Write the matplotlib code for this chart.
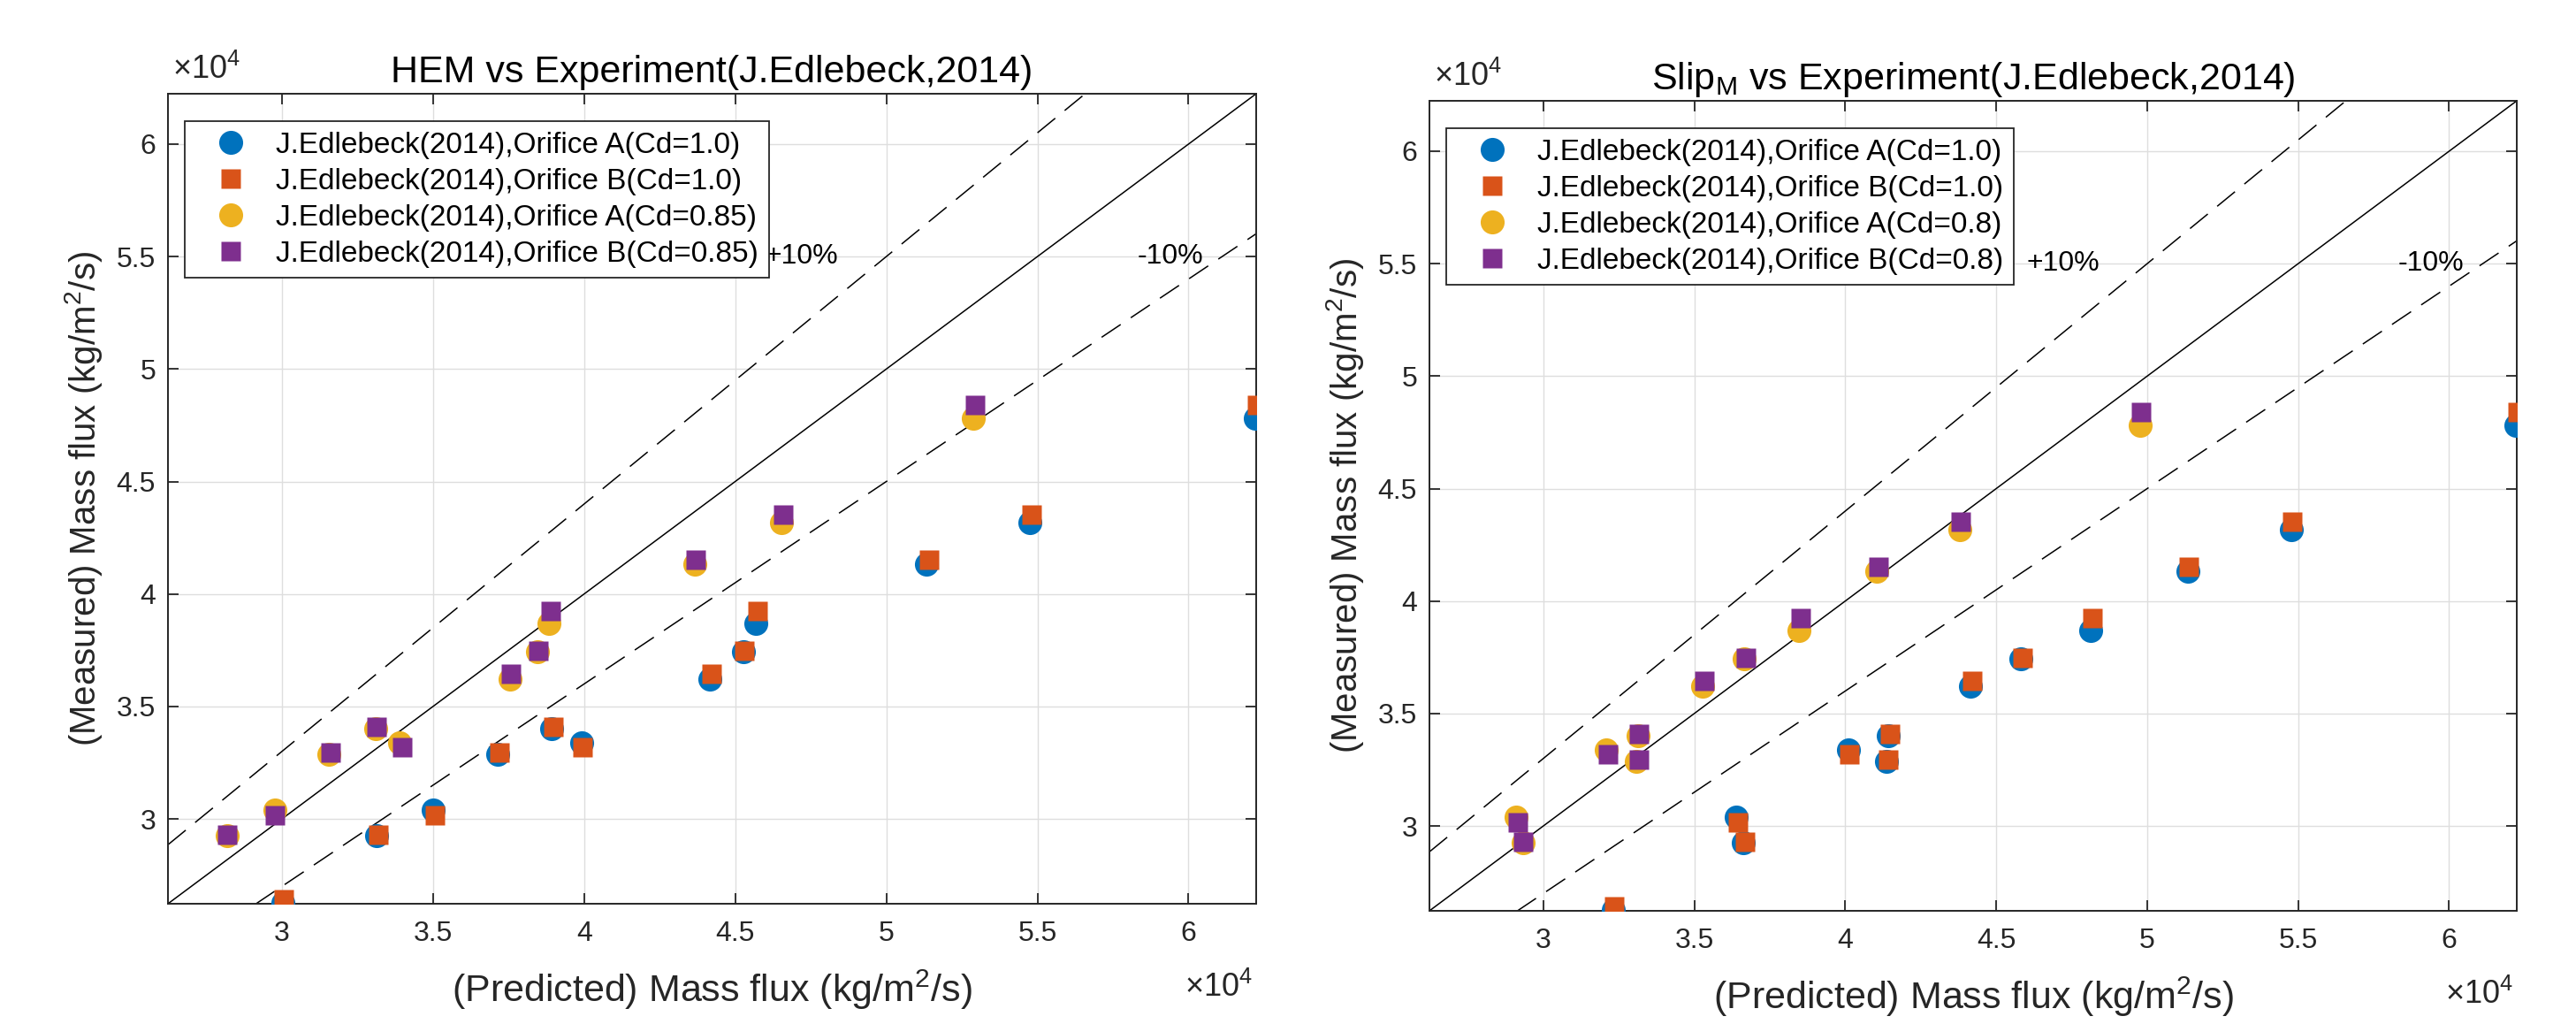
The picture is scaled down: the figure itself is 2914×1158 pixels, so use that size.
import numpy as np
import matplotlib
matplotlib.use('Agg')
import matplotlib.pyplot as plt
from matplotlib.ticker import FuncFormatter

plt.rcParams['font.family'] = ['Liberation Sans', 'DejaVu Sans']
plt.rcParams['mathtext.fontset'] = 'custom'
plt.rcParams['mathtext.rm'] = 'Liberation Sans'
plt.rcParams['mathtext.it'] = 'Liberation Sans:italic'
plt.rcParams['mathtext.bf'] = 'Liberation Sans:bold'

# measured mass flux, kg/m2/s (same for both panels)
meas_a = [26280, 29270, 30400, 32880, 33370, 34000, 36230, 37450, 38690, 41320, 43160, 47810]
meas_b = [26410, 29300, 30180, 32950, 33190, 34100, 36470, 37480, 39250, 41520, 43540, 48410]

# HEM predictions
hem_a = [30020, 33130, 35000, 37130, 39920, 38930, 44160, 45260, 45690, 51340, 54760, 62210]
hem_b = [30070, 33180, 35070, 37200, 39940, 38970, 44210, 45300, 45740, 51420, 54810, 62260]
hem_a85 = [28180, 29760, 31550, 33900, 33100, 37540, 38460, 38830, 43660, 46540, 52870]
hem_b85 = [28200, 29780, 31600, 33980, 33130, 37590, 38490, 38900, 43680, 46590, 52940]

# Slip_M predictions
slip_a = [32310, 36630, 36380, 41360, 40120, 41430, 44150, 45830, 48130, 51360, 54760, 62210]
slip_b = [32350, 36670, 36460, 41430, 40150, 41480, 44220, 45870, 48180, 51380, 54810, 62260]
slip_a8 = [29320, 29100, 33080, 32090, 33130, 35290, 36650, 38470, 41040, 43790, 49760]
slip_b8 = [29340, 29170, 33160, 32140, 33180, 35340, 36700, 38520, 41090, 43830, 49810]

lims = [26230, 62240]
ticks = [30000, 35000, 40000, 45000, 50000, 55000, 60000]

c_blue = '#0072BD'
c_orange = '#D95319'
c_yellow = '#EDB120'
c_purple = '#7E2F8E'
dark = '#262626'

W, H = 2914, 1158
fig = plt.figure(figsize=(W / 100, H / 100), dpi=100)
ax1 = fig.add_axes([190 / W, 1 - 1022 / H, 1231 / W, 916 / H])
ax2 = fig.add_axes([1617 / W, 1 - 1030 / H, 1230 / W, 916 / H])


def panel(ax, xa, xb, xa2, xb2, cd2, title):
    xs = np.array(lims, dtype=float)
    ax.plot(xs, xs, '-', color='k', lw=1.1, zorder=2)
    ax.plot(xs, 1.1 * xs, '--', color='k', lw=1.1, dashes=(17, 9), zorder=2)
    ax.plot(xs, 0.9 * xs, '--', color='k', lw=1.1, dashes=(17, 9), zorder=2)
    ax.plot(xa, meas_a, 'o', ms=19.5, color=c_blue, mec='none', zorder=3,
            label='J.Edlebeck(2014),Orifice A(Cd=1.0)')
    ax.plot(xb, meas_b, 's', ms=15.8, color=c_orange, mec='none', zorder=3,
            label='J.Edlebeck(2014),Orifice B(Cd=1.0)')
    ax.plot(xa2, meas_a[1:], 'o', ms=19.5, color=c_yellow, mec='none', zorder=3,
            label='J.Edlebeck(2014),Orifice A(Cd=%s)' % cd2)
    ax.plot(xb2, meas_b[1:], 's', ms=15.8, color=c_purple, mec='none', zorder=3,
            label='J.Edlebeck(2014),Orifice B(Cd=%s)' % cd2)

    ax.set_xlim(lims)
    ax.set_ylim(lims)
    ax.set_xticks(ticks)
    ax.set_yticks(ticks)
    fmt = FuncFormatter(lambda v, p: '%g' % (v / 1e4))
    ax.xaxis.set_major_formatter(fmt)
    ax.yaxis.set_major_formatter(fmt)
    ax.grid(True, color='#dedede', lw=1.0, zorder=0)
    ax.set_axisbelow(True)
    ax.tick_params(direction='in', length=8.5, width=1.3, top=True, right=True,
                   labelsize=23, colors=dark, labelcolor=dark)
    ax.tick_params(axis='x', pad=14)
    ax.tick_params(axis='y', pad=10)
    for s in ax.spines.values():
        s.set_color(dark)
        s.set_linewidth(1.4)

    ax.text(4.6e4, 5.5e4, '+10%', fontsize=23, ha='left', va='center', zorder=4)
    ax.text(5.83e4, 5.5e4, '-10%', fontsize=23, ha='left', va='center', zorder=4)

    ax.text(0.004, 1.01, r'$\times10^{4}$', transform=ax.transAxes,
            fontsize=26, color=dark, ha='left', va='bottom')
    ax.text(0.997, -0.123, r'$\times10^{4}$', transform=ax.transAxes,
            fontsize=26, color=dark, ha='right', va='bottom')

    ax.set_title(title, fontsize=31, pad=9)
    ax.set_xlabel('(Predicted) Mass flux (kg/m$^2$/s)', fontsize=31,
                  color=dark, labelpad=17)
    ax.set_ylabel('(Measured) Mass flux (kg/m$^2$/s)', fontsize=29,
                  color=dark, labelpad=10)

    leg = ax.legend(loc='upper left', bbox_to_anchor=(0.0154, 0.966),
                    borderaxespad=0, fontsize=24, frameon=True, fancybox=False,
                    framealpha=1, edgecolor=dark, borderpad=0.35,
                    labelspacing=0.3, handlelength=2.4, handletextpad=0.35,
                    numpoints=1)
    leg.get_frame().set_linewidth(1.3)


panel(ax1, hem_a, hem_b, hem_a85, hem_b85, '0.85',
      'HEM vs Experiment(J.Edlebeck,2014)')
panel(ax2, slip_a, slip_b, slip_a8, slip_b8, '0.8',
      r'Slip$_{\mathrm{M}}$ vs Experiment(J.Edlebeck,2014)')

fig.savefig('out.png', dpi=100)
